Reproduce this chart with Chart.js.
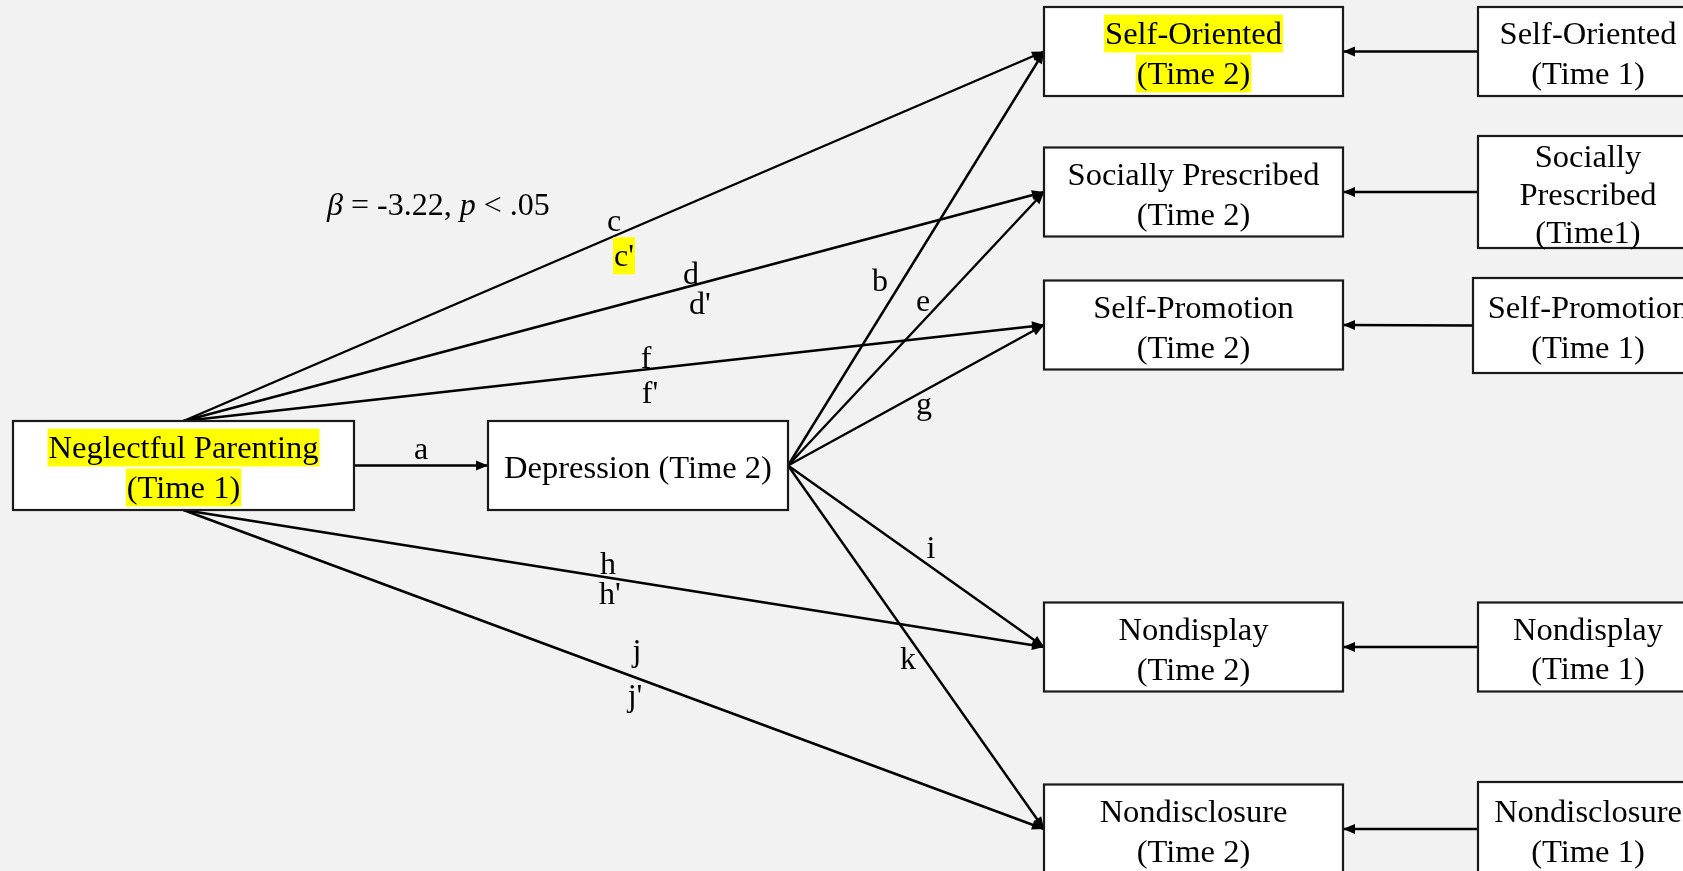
<!DOCTYPE html>
<html>
<head>
<meta charset="utf-8">
<script src="https://cdn.jsdelivr.net/npm/chart.js@4.4.1/dist/chart.umd.min.js"></script>
<style>
    html, body { margin: 0; padding: 0; background: #f2f2f2; overflow: hidden; }
    canvas { display: block; }
</style>
</head>
<body>
<canvas id="diagram" width="1683" height="871"></canvas>
<script>
// variables of the path model
let nodeNames = [
    ['Neglectful Parenting', '(Time 1)'],
    ['Depression (Time 2)'],
    ['Self-Oriented', '(Time 2)'],
    ['Socially Prescribed', '(Time 2)'],
    ['Self-Promotion', '(Time 2)'],
    ['Nondisplay', '(Time 2)'],
    ['Nondisclosure', '(Time 2)'],
    ['Self-Oriented', '(Time 1)'],
    ['Socially', 'Prescribed', '(Time1)'],
    ['Self-Promotion', '(Time 1)'],
    ['Nondisplay', '(Time 1)'],
    ['Nondisclosure', '(Time 1)']
];
let nodeMarked = [true, false, true, false, false, false, false, false, false, false, false, false];

// paths (from node -> to node) and their names
let pathFrom  = [0, 0, 0, 0, 0, 0, 1, 1, 1, 1, 1, 7, 8, 9, 10, 11];
let pathTo    = [1, 2, 3, 4, 5, 6, 2, 3, 4, 5, 6, 2, 3, 4, 5, 6];
let pathNames = ['a', 'c', 'd', 'f', 'h', 'j', 'b', 'e', 'g', 'i', 'k', '', '', '', '', ''];
let primeNames = ["c'", "d'", "f'", "h'", "j'"];
let primeMarked = [true, false, false, false, false];

// reported effect
let effectBeta = '-3.22';
let effectP = '.05';

// ---- layout (diagram units = axis units) ----
let layout = {
    nodeX: [183.5, 638, 1193.5, 1193.5, 1193.5, 1193.5, 1193.5, 1588, 1588, 1588, 1588, 1588],
    nodeY: [465.5, 465.5, 51.5, 192, 325, 647, 829, 51.5, 192, 325.5, 647, 829],
    nodeW: [341, 300, 299, 299, 299, 299, 299, 220, 220, 230, 220, 220],
    nodeH: [89, 89, 89, 89, 89, 89, 89, 89, 112, 95, 89, 94],
    fromSide: ['right', 'top', 'top', 'top', 'bottom', 'bottom', 'right', 'right', 'right', 'right', 'right', 'left', 'left', 'left', 'left', 'left'],
    toSide: ['left', 'left', 'left', 'left', 'left', 'left', 'left', 'left', 'left', 'left', 'left', 'right', 'right', 'right', 'right', 'right'],
    nameX: [421, 614, 691, 646, 608, 637, 880, 923, 924, 931, 908],
    nameY: [459, 231, 284, 368, 574, 661, 291, 311, 414, 558, 669],
    primeX: [624, 700, 650, 610, 635],
    primeY: [266, 314, 403, 604, 706],
    effectX: 327,
    effectY: 215,
    lineGap: [40, 0, 40, 40, 40, 40, 40, 40, 38, 40, 39, 40]
};

const FONT = '"Liberation Serif", "Times New Roman", serif';
const MARK = '#ffff00';

function sidePoint(n, side) {
    let x = layout.nodeX[n], y = layout.nodeY[n];
    if (side === 'left') x -= layout.nodeW[n] / 2;
    if (side === 'right') x += layout.nodeW[n] / 2;
    if (side === 'top') y -= layout.nodeH[n] / 2;
    if (side === 'bottom') y += layout.nodeH[n] / 2;
    return {x: x, y: y};
}

let datasets = pathFrom.map((from, i) => ({
    label: pathNames[i] || ('stability ' + i),
    data: [sidePoint(from, layout.fromSide[i]), sidePoint(pathTo[i], layout.toSide[i])],
    showLine: true,
    borderColor: '#000',
    borderWidth: 2.4,
    pointRadius: 0,
    clip: false
}));

// background
const backdrop = {
    id: 'backdrop',
    beforeDraw(chart) {
        const ctx = chart.ctx;
        ctx.save();
        ctx.fillStyle = '#f2f2f2';
        ctx.fillRect(0, 0, chart.width, chart.height);
        ctx.restore();
    }
};

// arrow heads on every path
const arrowHeads = {
    id: 'arrowHeads',
    afterDatasetsDraw(chart) {
        const ctx = chart.ctx;
        ctx.save();
        ctx.fillStyle = '#000';
        chart.data.datasets.forEach((ds, i) => {
            let pts = chart.getDatasetMeta(i).data;
            let p1 = pts[0], p2 = pts[1];
            let ang = Math.atan2(p2.y - p1.y, p2.x - p1.x);
            let len = 12, half = 5;
            ctx.beginPath();
            ctx.moveTo(p2.x, p2.y);
            ctx.lineTo(p2.x - len * Math.cos(ang) + half * Math.sin(ang), p2.y - len * Math.sin(ang) - half * Math.cos(ang));
            ctx.lineTo(p2.x - len * Math.cos(ang) - half * Math.sin(ang), p2.y - len * Math.sin(ang) + half * Math.cos(ang));
            ctx.closePath();
            ctx.fill();
        });
        ctx.restore();
    }
};

function markedText(ctx, text, x, y, marked, size) {
    if (marked) {
        let w = ctx.measureText(text).width;
        ctx.fillStyle = MARK;
        ctx.fillRect(x - w / 2 - 1, y - size * 0.9, w + 2, size * 1.16);
    }
    ctx.fillStyle = '#000';
    ctx.fillText(text, x, y);
}

// boxes and all text
const boxes = {
    id: 'boxes',
    afterDraw(chart) {
        const ctx = chart.ctx;
        const sx = chart.scales.x, sy = chart.scales.y;
        ctx.save();
        nodeNames.forEach((lines, n) => {
            let x0 = sx.getPixelForValue(layout.nodeX[n] - layout.nodeW[n] / 2);
            let x1 = sx.getPixelForValue(layout.nodeX[n] + layout.nodeW[n] / 2);
            let y0 = sy.getPixelForValue(layout.nodeY[n] - layout.nodeH[n] / 2);
            let y1 = sy.getPixelForValue(layout.nodeY[n] + layout.nodeH[n] / 2);
            ctx.fillStyle = '#fff';
            ctx.fillRect(x0, y0, x1 - x0, y1 - y0);
            ctx.strokeStyle = '#1a1a1a';
            ctx.lineWidth = 2.2;
            ctx.strokeRect(x0, y0, x1 - x0, y1 - y0);

            ctx.font = '32.5px ' + FONT;
            ctx.textAlign = 'center';
            ctx.textBaseline = 'alphabetic';
            let cx = sx.getPixelForValue(layout.nodeX[n]);
            let gap = layout.lineGap[n];
            lines.forEach((t, k) => {
                let cy = layout.nodeY[n] + (k - (lines.length - 1) / 2) * gap;
                markedText(ctx, t, cx, sy.getPixelForValue(cy) + 12.5, nodeMarked[n], 32.5);
            });
        });

        // path names
        ctx.font = '32px ' + FONT;
        ctx.textAlign = 'center';
        ctx.textBaseline = 'alphabetic';
        layout.nameX.forEach((x, i) => {
            markedText(ctx, pathNames[i], sx.getPixelForValue(x), sy.getPixelForValue(layout.nameY[i]), false, 32);
        });
        primeNames.forEach((t, i) => {
            markedText(ctx, t, sx.getPixelForValue(layout.primeX[i]), sy.getPixelForValue(layout.primeY[i]), primeMarked[i], 32);
        });

        // beta note
        let parts = [['\u03B2', true], [' = ' + effectBeta + ', ', false], ['p', true], [' < ' + effectP, false]];
        let px = sx.getPixelForValue(layout.effectX);
        let py = sy.getPixelForValue(layout.effectY);
        ctx.textAlign = 'left';
        parts.forEach(part => {
            ctx.font = (part[1] ? 'italic ' : '') + '32px ' + FONT;
            ctx.fillStyle = '#000';
            ctx.fillText(part[0], px, py);
            px += ctx.measureText(part[0]).width;
        });
        ctx.restore();
    }
};

new Chart(document.getElementById('diagram').getContext('2d'), {
    type: 'scatter',
    data: { datasets: datasets },
    options: {
        responsive: false,
        animation: false,
        devicePixelRatio: 1,
        layout: { padding: 0 },
        scales: {
            x: { type: 'linear', min: 0, max: 1683, display: false },
            y: { type: 'linear', min: 0, max: 871, reverse: true, display: false }
        },
        plugins: {
            legend: { display: false },
            tooltip: { enabled: false }
        }
    },
    plugins: [backdrop, arrowHeads, boxes]
});
</script>
</body>
</html>
